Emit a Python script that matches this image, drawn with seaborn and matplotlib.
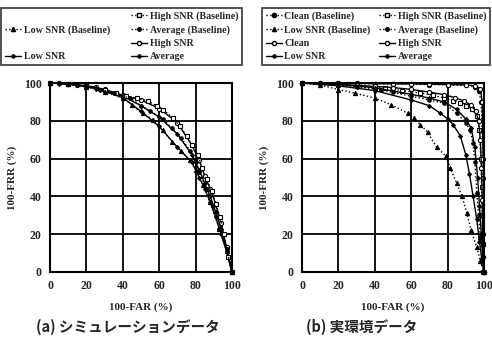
import matplotlib
matplotlib.use("Agg")
import matplotlib.pyplot as plt
from matplotlib.lines import Line2D
import seaborn as sns

# (a) simulation data
sim_high_base_x = [0, 10, 20, 30, 36, 42, 47.6, 54, 58.6, 62, 67.6, 71.4, 75, 78, 81.5, 83.3, 86, 89, 91, 93.6, 95.4, 98, 100]
sim_high_base_y = [100, 99.5, 98.5, 96.5, 94.7, 93, 92, 90.5, 87.8, 85.9, 81.5, 77, 72, 67.4, 62, 55, 49, 43, 36, 29, 20, 8, 0]
sim_avg_base_x = [0, 10, 20, 27.5, 35, 44, 50, 55, 62, 67, 72, 77, 80, 82, 86, 89.6, 93, 97, 100]
sim_avg_base_y = [100, 99.5, 98.5, 96.5, 94.5, 92, 88, 85, 81, 76, 71, 64, 58, 53, 44, 35, 23, 12, 0]
sim_low_base_x = [0, 10, 20, 30, 40, 45, 51, 56.6, 62, 67, 72, 77, 80, 84, 88, 93, 97, 100]
sim_low_base_y = [100, 99.3, 98, 95.5, 92, 88.5, 84, 80.6, 75, 69, 64, 59, 54, 46, 37, 23, 11, 0]
sim_high_x = [0, 5, 10, 15, 20, 25, 30, 40, 50, 60, 70, 78, 82, 85, 88, 91, 94, 97, 100]
sim_high_y = [100, 99.8, 99.5, 99, 98.5, 97.8, 96.6, 93.5, 91, 86.5, 79, 67, 59, 51, 44, 36, 26, 13, 0]
sim_low_x = [0, 5, 10, 15, 20, 25, 30, 40, 50, 60, 70, 78, 82, 85, 88, 91, 94, 97, 100]
sim_low_y = [100, 99.7, 99.3, 98.7, 98, 97, 95.6, 92.2, 85, 77, 66, 58, 50, 44, 37, 29, 20, 11, 0]
sim_avg_x = [0, 5, 10, 15, 20, 25, 30, 40, 50, 60, 70, 78, 82, 85, 88, 91, 94, 97, 100]
sim_avg_y = [100, 99.8, 99.4, 98.8, 98.3, 97.4, 96, 93, 88, 82, 73, 62, 54, 47, 40, 32, 23, 12, 0]

# (b) real environment data
real_clean_base_x = [0, 10, 20, 30, 40, 50, 60, 70, 80, 90, 95, 97, 98.5, 99.5, 100]
real_clean_base_y = [100, 100, 99.8, 99.7, 99.5, 99.5, 99.3, 99.2, 99, 98.7, 98, 96, 90, 60, 0]
real_clean_x = [0, 10, 20, 30, 40, 50, 60, 70, 80, 90, 95, 98, 99, 99.7, 100]
real_clean_y = [100, 100, 99.9, 99.8, 99.7, 99.6, 99.5, 99.4, 99.2, 99, 98.5, 97, 90, 50, 0]
real_high_base_x = [0, 20, 40, 45.5, 55, 65, 72, 78, 83, 87, 90, 93.5, 96, 97.5, 98.3, 98.7, 99, 99.3, 99.6]
real_high_base_y = [100, 99, 97.5, 97.3, 96, 94.7, 93.5, 92, 90.5, 89.4, 88, 86, 82.5, 75, 60, 45, 30, 15, 0]
real_high_x = [0, 20, 40, 50, 60, 70, 78, 84, 89, 93, 95.5, 97, 98, 98.6, 99, 99.3, 99.6, 100]
real_high_y = [100, 99.3, 98.2, 97.6, 96.6, 95.2, 93.8, 92.3, 90.5, 88.2, 85, 80, 70, 55, 38, 20, 8, 0]
real_low_base_x = [0, 10, 20, 29, 40, 49, 58, 61.6, 65, 69, 74, 79, 81.5, 85, 88, 90.6, 93, 96, 98, 100]
real_low_base_y = [100, 99, 96.5, 94.7, 92, 88.5, 84, 81.4, 78, 74, 66, 61.4, 55, 47, 40, 31, 22, 13, 6, 0]
real_low_x = [0, 20, 40, 60, 70, 76, 80, 83, 87, 90, 92, 94, 96, 97.5, 99, 100]
real_low_y = [100, 98.5, 96, 91, 88, 84, 81, 78, 72, 62, 52, 40, 28, 16, 5, 0]
real_avg_base_x = [0, 20, 30, 43.5, 50, 60, 70, 78, 85, 90, 92.4, 94, 95, 96, 97, 98, 99, 100]
real_avg_base_y = [100, 99, 98, 96.5, 95, 93, 91, 89.4, 84, 79, 75, 68, 58, 42, 30, 18, 7, 0]
real_avg_x = [0, 20, 40, 60, 70, 78, 85, 90, 93, 95, 96.5, 97.5, 98.5, 99.3, 100]
real_avg_y = [100, 99.3, 97.5, 94, 92, 90, 86, 81, 76, 66, 50, 35, 20, 8, 0]

labels = ["Clean (Baseline)", "Low SNR (Baseline)", "Clean", "Low SNR",
          "High SNR (Baseline)", "Average (Baseline)", "High SNR", "Average"]

serif = "Liberation Serif"
styles = {
    "Clean (Baseline)": dict(ls=":", marker="o", mfc="black", ms=3),
    "Low SNR (Baseline)": dict(ls=":", marker="^", mfc="black", ms=3),
    "Clean": dict(ls="-", marker="o", mfc="white", ms=3),
    "Low SNR": dict(ls="-", marker="D", mfc="black", ms=2),
    "High SNR (Baseline)": dict(ls=":", marker="s", mfc="white", ms=3),
    "Average (Baseline)": dict(ls=":", marker="o", mfc="black", ms=2.5),
    "High SNR": dict(ls="-", marker="o", mfc="white", ms=3),
    "Average": dict(ls="-", marker="D", mfc="black", ms=2),
}

sns.set_theme(style="white")
plt.rcParams["font.family"] = [serif, "DejaVu Sans"]

fig = plt.figure(figsize=(4.92, 3.39), dpi=100)
ax_a = fig.add_axes([50 / 492, 67 / 339, 182 / 492, 189 / 339])
ax_b = fig.add_axes([302 / 492, 67 / 339, 182 / 492, 189 / 339])

panels = [
    (ax_a, {
        "High SNR": (sim_high_x, sim_high_y),
        "Low SNR": (sim_low_x, sim_low_y),
        "Average": (sim_avg_x, sim_avg_y),
        "High SNR (Baseline)": (sim_high_base_x, sim_high_base_y),
        "Average (Baseline)": (sim_avg_base_x, sim_avg_base_y),
        "Low SNR (Baseline)": (sim_low_base_x, sim_low_base_y),
    }),
    (ax_b, {
        "Clean (Baseline)": (real_clean_base_x, real_clean_base_y),
        "Clean": (real_clean_x, real_clean_y),
        "High SNR (Baseline)": (real_high_base_x, real_high_base_y),
        "High SNR": (real_high_x, real_high_y),
        "Low SNR (Baseline)": (real_low_base_x, real_low_base_y),
        "Low SNR": (real_low_x, real_low_y),
        "Average (Baseline)": (real_avg_base_x, real_avg_base_y),
        "Average": (real_avg_x, real_avg_y),
    }),
]

for ax, series in panels:
    for name, (xs, ys) in series.items():
        st = styles[name]
        sns.lineplot(x=xs, y=ys, ax=ax, color="black", linestyle=st["ls"],
                     marker=st["marker"], markerfacecolor=st["mfc"],
                     markeredgecolor="black", markersize=st["ms"], markeredgewidth=0.8,
                     linewidth=1.0, estimator=None, sort=False, clip_on=False)
    ax.set_xlim(0, 100)
    ax.set_ylim(0, 100)
    ax.set_xticks(range(0, 101, 20))
    ax.set_yticks(range(0, 101, 20))
    ax.grid(True, color="black", linewidth=1.3)
    ax.set_axisbelow(True)
    for sp in ax.spines.values():
        sp.set_color("black")
        sp.set_linewidth(1.5)
    ax.tick_params(length=0, pad=6, labelsize=8.5)
    for t in ax.get_xticklabels() + ax.get_yticklabels():
        t.set_fontweight("bold")
    ax.set_xlabel("100-FAR (%)", fontsize=8, fontweight="bold", labelpad=7)
    ax.set_ylabel("100-FRR (%)", fontsize=8, fontweight="bold", labelpad=5)


def legend_handles(present):
    hs = []
    for name in labels:
        if name in present:
            st = styles[name]
            hs.append(Line2D([], [], color="black", linestyle=st["ls"], marker=st["marker"],
                             markerfacecolor=st["mfc"], markeredgecolor="black",
                             markersize=st["ms"], linewidth=1.0))
        else:
            hs.append(Line2D([], [], linestyle="none"))
    return hs


for series, box in [(panels[0][1], (1 / 492, 1 - 70 / 339, 241 / 492, 62 / 339)),
                    (panels[1][1], (262 / 492, 1 - 69 / 339, 228 / 492, 61 / 339))]:
    hs = legend_handles(series)
    labs = [n if n in series else "" for n in labels]
    leg = fig.legend(hs, labs, loc="upper left", bbox_to_anchor=box, ncol=2,
                     mode="expand", frameon=True, fancybox=False, edgecolor="black",
                     handlelength=1.6, handletextpad=0.3, columnspacing=0.6,
                     labelspacing=0.42, borderpad=0.35, borderaxespad=0,
                     prop={"family": serif, "weight": "bold", "size": 7.2})
    leg.get_frame().set_linewidth(1.2)

fig.text(128 / 492, 1 - 327 / 339, "(a) シミュレーションデータ", ha="center", va="center",
         fontsize=10.5, fontweight="bold", family=["Noto Sans CJK JP", "DejaVu Sans"])
fig.text(362 / 492, 1 - 327 / 339, "(b) 実環境データ", ha="center", va="center",
         fontsize=10.5, fontweight="bold", family=["Noto Sans CJK JP", "DejaVu Sans"])

fig.savefig("out.png", dpi=100)
